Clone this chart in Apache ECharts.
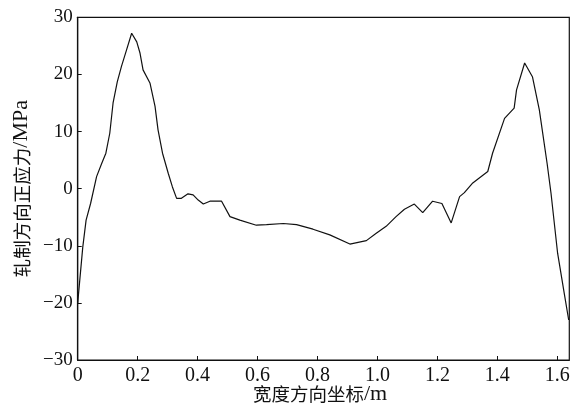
<!DOCTYPE html>
<html><head><meta charset="utf-8">
<script src="https://cdn.jsdelivr.net/npm/echarts@6/dist/echarts.min.js"></script>
<style>html,body{margin:0;padding:0;background:#fff}#c{width:576px;height:410px}</style>
</head><body><div id="c"></div>
<script>
var xValues = [0, 0.017, 0.028, 0.043, 0.063, 0.080, 0.094, 0.107, 0.118, 0.132, 0.146, 0.163, 0.180, 0.197, 0.208, 0.218, 0.241, 0.258, 0.268, 0.283, 0.302, 0.316, 0.330, 0.346, 0.368, 0.385, 0.402, 0.419, 0.441, 0.480, 0.508, 0.541, 0.596, 0.630, 0.686, 0.730, 0.785, 0.841, 0.908, 0.963, 0.996, 1.029, 1.062, 1.090, 1.123, 1.151, 1.184, 1.215, 1.246, 1.274, 1.290, 1.318, 1.368, 1.384, 1.424, 1.456, 1.464, 1.491, 1.517, 1.540, 1.566, 1.579, 1.601, 1.623, 1.638];
var stressValues = [-20, -10.2, -5.5, -2.6, 2.1, 4.4, 6.2, 9.7, 15.0, 18.7, 21.4, 24.3, 27.2, 25.7, 23.7, 20.8, 18.5, 14.4, 10.3, 6.2, 2.7, 0.3, -1.7, -1.7, -0.9, -1.1, -2.0, -2.7, -2.2, -2.2, -4.9, -5.5, -6.4, -6.3, -6.1, -6.3, -7.1, -8.1, -9.7, -9.1, -7.8, -6.6, -4.9, -3.6, -2.7, -4.2, -2.2, -2.6, -6.0, -1.4, -0.7, 1.0, 3.0, 6.2, 12.3, 14.1, 17.3, 22.0, 19.6, 13.8, 4.4, -0.8, -11.3, -18.3, -23.0];
var xTicks = [0, 0.2, 0.4, 0.6, 0.8, 1.0, 1.2, 1.4, 1.6];
var yTicks = [-30, -20, -10, 0, 10, 20, 30];
var xNameCn = '宽度方向坐标';
var xNameUnit = '/m';
var yNameCn = '轧制方向正应力';
var yNameUnit = '/MPa';

var serif = 'Liberation Serif, Times New Roman, serif';
var cjk = 'Noto Sans CJK SC';
var points = xValues.map(function (x, i) { return [x, stressValues[i]]; });
var nameRich = {
  cn: {fontFamily: cjk, fontSize: 18.5, color: '#111'},
  en: {fontFamily: serif, fontSize: 22, color: '#111'}
};
var chart = echarts.init(document.getElementById('c'));
chart.setOption({
  animation: false,
  grid: {left: 77.7, right: 6.7, top: 17.3, bottom: 50, outerBoundsMode: 'none', containLabel: false, show: true, borderColor: '#111', borderWidth: 1.2, backgroundColor: 'transparent'},
  xAxis: {
    type: 'value', min: 0, max: 1.64, interval: 0.2,
    name: '{cn|' + xNameCn + '}{en|' + xNameUnit + '}', nameLocation: 'middle', nameGap: 23, nameMoveOverlap: false,
    nameTextStyle: {rich: nameRich, padding: [0, 7, 0, 0]},
    axisLine: {show: true, onZero: false, lineStyle: {color: '#111', width: 1.2}},
    axisTick: {show: true, inside: true, length: 4, lineStyle: {color: '#111'}},
    splitLine: {show: false},
    axisLabel: {fontFamily: serif, fontSize: 20, color: '#111', margin: 6, showMaxLabel: false, formatter: function (v) {
      for (var i = 0; i < xTicks.length; i++) { if (Math.abs(xTicks[i] - v) < 1e-6) return v === 0 ? '0' : xTicks[i].toFixed(1); }
      return '';
    }}
  },
  yAxis: {
    type: 'value', min: -30, max: 30, interval: 10,
    name: '{cn|' + yNameCn + '}{en|' + yNameUnit + '}', nameLocation: 'middle', nameGap: 45, nameRotate: 90, nameMoveOverlap: false,
    nameTextStyle: {rich: nameRich},
    axisLine: {show: true, onZero: false, lineStyle: {color: '#111', width: 1.2}},
    axisTick: {show: true, inside: true, length: 4, lineStyle: {color: '#111'}},
    splitLine: {show: false},
    axisLabel: {fontFamily: serif, fontSize: 19, color: '#111', margin: 5, formatter: function (v) {
      return yTicks.indexOf(v) >= 0 ? String(v).replace('-', '\u2212') : '';
    }}
  },
  series: [{
    type: 'line', data: points, showSymbol: false, smooth: false,
    lineStyle: {color: '#111', width: 1.2}
  }]
});
</script>
</body></html>
